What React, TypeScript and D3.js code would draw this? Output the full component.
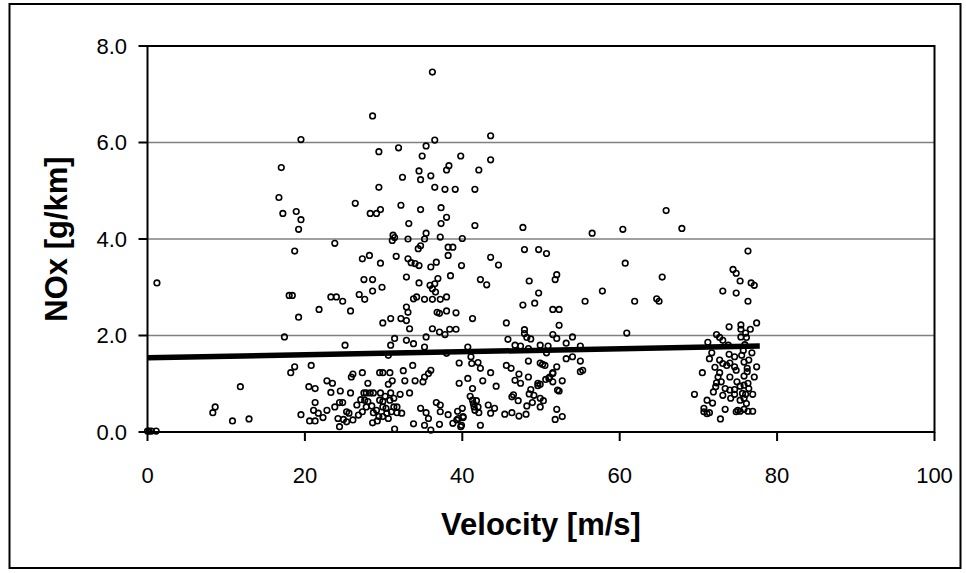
import React, { useEffect } from "react";
import * as d3 from "d3";

// ---- data ----
const velocity: number[] = [
  // near origin / sparse low-speed
  0, 0.2, 0.5, 1.1, 1.2, 8.6, 8.3, 10.8, 11.8, 12.9,
  // 16-20
  16.7, 17.0, 17.2, 18.9, 19.5, 19.2, 19.5, 18.7, 18.0, 18.4, 19.2, 17.4, 18.7, 18.2, 19.5,
  // 20-41 upper (>4)
  36.2, 28.6, 29.4, 31.9, 35.4, 36.5, 34.9, 39.8, 34.5, 34.7, 36.0, 38.0, 38.3, 32.4, 29.4, 36.5, 37.8, 39.1,
  26.4, 28.3, 29.1, 29.6, 32.2, 34.7, 37.3, 38.0, 37.3, 33.2, 31.2, 31.4, 31.1, 35.4, 35.2, 37.2, 40.0, 33.1,
  // 20-41 middle (2-4)
  23.8, 27.3, 28.2, 29.6, 31.6, 33.1, 33.5, 34.0, 34.5, 32.9, 36.0, 36.7, 38.5, 39.9, 38.2, 38.8, 38.2, 34.4, 34.7,
  27.5, 28.6, 28.6, 29.8, 34.5, 35.9, 36.2, 36.5, 36.9, 36.6, 23.3, 24.0, 24.8, 21.8, 25.8, 26.9, 27.6,
  33.8, 34.2, 35.2, 36.2, 37.2, 38.0, 32.9, 33.1, 32.9, 33.3, 32.2, 29.9, 30.9, 36.8, 37.1, 38.0, 39.2,
  36.2, 37.1, 37.8, 38.4, 39.2, 35.4, 35.2, 31.4, 30.9, 32.9, 33.8, 25.1, 30.6, 38.0, 40.7,
  // 20-41 lower
  20.8, 20.5, 21.3, 21.3, 21.1, 21.7, 20.6, 21.3, 22.3, 22.8, 23.3, 22.8, 23.5, 23.8, 24.4, 24.8, 24.5, 24.2,
  24.9, 24.4, 25.3, 25.6, 25.8, 25.9, 26.1, 25.3, 26.1, 26.6, 26.8, 27.3, 27.1, 27.5, 27.8, 28.3, 28.7, 28.0,
  27.6, 28.0, 27.8, 28.5, 27.3, 28.7, 29.1, 28.6, 29.2, 29.5, 29.9, 29.6, 30.2, 29.5, 29.9, 29.9, 30.3, 29.4,
  29.9, 30.4, 30.6, 30.8, 30.6, 31.1, 30.9, 30.8, 31.3, 31.3, 31.7, 31.0, 31.7, 31.4, 32.1, 32.3, 32.5, 32.7,
  33.3, 33.7, 33.8, 34.0, 34.7, 35.4, 35.0, 35.2, 35.7, 36.0, 35.2, 36.0, 35.7, 36.7, 37.2, 37.1, 37.2, 39.6,
  39.6, 39.5, 39.3, 39.8, 40.0, 38.8, 40.7, 38.2, 39.4, 40.1,
  // 40-61
  43.6, 43.6, 42.1, 41.6, 41.6, 47.7, 56.5, 60.4,
  47.9, 49.7, 50.7, 43.6, 44.6, 42.3, 43.1, 48.5, 51.8, 52.0, 49.7, 49.2, 47.7, 51.5, 52.3, 52.3, 55.6, 57.8,
  60.7, 60.9, 41.3, 45.6,
  45.8, 46.7, 47.4, 47.9, 47.9, 48.2, 48.7, 48.4, 49.9, 50.9, 51.5, 52.0, 53.2, 54.0, 55.0, 50.7, 53.2, 54.0,
  55.0, 55.0, 55.3, 41.2, 42.0, 41.1, 42.3, 43.6, 45.6, 46.2, 47.2, 46.7, 47.4, 48.4, 48.4, 49.9, 50.2, 50.5,
  52.0, 51.5, 51.1, 50.6, 49.9, 49.6, 51.5, 52.7, 52.1, 52.3, 42.6, 41.3, 44.3, 41.0, 41.3, 41.4, 41.8, 42.0,
  41.5, 41.6, 42.1, 43.3, 43.6, 44.1, 40.1, 39.9, 42.3, 45.4, 46.3, 46.5, 46.3, 47.1, 47.2, 48.1, 48.2, 48.5,
  48.7, 49.1, 48.9, 49.6, 49.9, 50.3, 49.9, 51.0, 51.5, 52.0, 52.7, 51.8,
  // 61-70
  61.9, 64.7, 65.0, 65.4, 65.9, 67.9, 69.5,
  // right cluster 70-78
  76.3, 74.4, 74.8, 75.3, 76.7, 77.1, 73.1, 74.8, 76.3, 77.4, 73.9, 75.4, 75.4, 76.6, 76.0, 72.3, 72.7, 75.4,
  76.1, 71.2, 73.1, 73.8, 75.9, 75.7, 71.7, 76.8, 71.4, 73.9, 74.6, 75.5, 72.7, 73.1, 73.6, 74.0, 74.6, 75.8,
  76.4, 77.4, 72.1, 70.5, 72.7, 74.8, 76.2, 76.2, 72.5, 74.0, 75.8, 77.1, 72.3, 72.9, 74.9, 76.3, 75.8, 72.2,
  73.4, 74.6, 75.3, 76.4, 71.9, 73.1, 74.0, 74.6, 75.6, 76.0, 76.9, 71.1, 71.8, 73.4, 70.7, 70.7, 71.4, 71.1,
  75.0, 75.3, 75.8, 76.3, 76.9, 74.8, 72.8, 74.1, 75.3, 76.1, 75.8,
];

const nox: number[] = [
  0.02, 0.02, 0.02, 0.02, 3.09, 0.52, 0.40, 0.23, 0.94, 0.27,
  4.86, 5.48, 4.53, 4.57, 4.40, 4.20, 6.06, 3.75, 2.83, 2.83, 2.38, 1.97, 1.35, 1.23, 0.36,
  7.46, 6.55, 5.81, 5.89, 5.93, 6.05, 5.72, 5.72, 5.41, 5.23, 5.31, 5.43, 5.52, 5.28, 5.07, 5.07, 5.03, 5.03,
  4.74, 4.53, 4.53, 4.61, 4.70, 4.61, 4.65, 4.45, 4.32, 4.32, 4.08, 4.03, 3.97, 4.12, 4.00, 4.04, 4.01, 4.00,
  3.91, 3.59, 3.66, 3.50, 3.64, 3.59, 3.51, 3.49, 3.45, 3.21, 3.42, 3.52, 3.24, 3.45, 3.83, 3.83, 3.66, 3.80, 3.86,
  3.16, 3.16, 2.92, 3.00, 3.09, 3.04, 2.97, 3.07, 3.18, 2.90, 2.80, 2.80, 2.71, 2.54, 2.51, 2.85, 2.75,
  2.76, 2.80, 2.75, 2.75, 2.75, 2.80, 2.59, 2.48, 2.31, 2.14, 2.35, 2.26, 2.35, 2.48, 2.46, 2.51, 2.47,
  2.14, 2.07, 2.02, 2.13, 2.13, 1.97, 1.76, 1.94, 1.80, 1.90, 1.83, 1.80, 1.59, 1.63, 1.76,
  1.38, 0.94, 0.90, 0.61, 0.45, 0.39, 0.23, 0.23, 0.30, 0.45, 0.82, 1.06, 1.01, 0.52, 0.61, 0.61, 0.85, 0.28,
  0.26, 0.11, 0.42, 0.39, 0.81, 1.14, 1.20, 0.21, 0.25, 0.56, 0.35, 1.23, 0.67, 0.81, 0.81, 0.81, 0.81, 1.01,
  0.66, 0.63, 0.52, 0.54, 0.42, 0.40, 0.45, 0.19, 0.23, 1.23, 1.23, 0.81, 0.74, 0.66, 0.63, 0.52, 0.49, 0.32,
  0.32, 0.39, 0.28, 1.23, 0.99, 1.06, 0.81, 0.66, 0.70, 0.52, 0.52, 0.42, 0.40, 0.06, 0.78, 0.39, 1.27, 1.06,
  0.81, 1.38, 0.17, 1.06, 0.49, 0.40, 1.04, 1.14, 1.21, 1.28, 0.14, 0.04, 0.28, 0.61, 0.42, 0.16, 0.56, 1.43,
  1.01, 0.28, 0.25, 0.11, 0.49, 0.18, 1.11, 0.36, 0.43, 0.32,
  6.14, 5.64, 5.43, 5.03, 4.28, 4.24, 4.12, 4.20,
  3.78, 3.78, 3.70, 3.62, 3.46, 3.16, 3.05, 3.13, 3.16, 3.26, 2.88, 2.67, 2.63, 2.54, 2.54, 2.21, 2.71, 2.92,
  3.50, 2.05, 2.35, 2.26,
  1.92, 1.80, 1.78, 2.12, 2.04, 1.96, 1.93, 1.73, 1.80, 1.78, 2.02, 1.94, 1.84, 1.97, 1.78, 1.64, 1.52, 1.56,
  1.47, 1.25, 1.28, 1.42, 1.44, 1.56, 1.32, 1.23, 1.38, 1.32, 1.20, 1.07, 1.01, 1.47, 1.14, 1.43, 1.40, 1.38,
  1.35, 1.23, 1.14, 1.09, 0.99, 0.96, 1.04, 1.06, 0.87, 0.85, 1.06, 0.90, 0.95, 0.74, 0.66, 0.59, 0.65, 0.52,
  0.52, 0.45, 0.40, 0.56, 0.39, 0.49, 0.30, 0.14, 0.14, 0.37, 0.40, 0.77, 0.73, 0.65, 0.33, 0.37, 0.54, 0.79,
  0.88, 0.76, 0.61, 1.01, 0.70, 0.65, 0.52, 1.11, 1.21, 0.47, 0.32, 0.26,
  2.71, 2.76, 2.71, 3.21, 4.59, 4.22, 0.78,
  3.75, 3.37, 3.29, 3.13, 3.09, 3.04, 2.92, 2.88, 2.71, 2.26, 2.18, 2.22, 2.13, 2.13, 2.05, 2.02, 1.96, 1.97,
  1.96, 1.86, 1.90, 1.80, 1.81, 1.69, 1.64, 1.64, 1.52, 1.61, 1.56, 1.59, 1.49, 1.42, 1.38, 1.43, 1.35, 1.45,
  1.49, 1.35, 1.34, 1.23, 1.23, 1.28, 1.32, 1.25, 1.14, 1.14, 1.16, 1.14, 1.02, 1.04, 1.04, 1.01, 0.97, 0.94,
  0.90, 0.88, 0.95, 0.90, 0.83, 0.76, 0.87, 0.78, 0.80, 0.78, 0.78, 0.66, 0.60, 0.47, 0.49, 0.42, 0.40, 0.38,
  0.45, 0.43, 0.47, 0.43, 0.43, 0.42, 0.27, 0.70, 0.66, 0.59, 0.70,
];

const trendX: number[] = [0, 77.8];
const trendY: number[] = [1.54, 1.78];

const xTicks: number[] = [0, 20, 40, 60, 80, 100];
const yTicks: number[] = [0, 2, 4, 6, 8];
const gridValues: number[] = [2, 4, 6];

const xTitle = "Velocity [m/s]";
const yTitle = "NOx [g/km]";

// ---- layout ----
const W = 966;
const H = 573;
const left = 147.5;
const right = 934.5;
const top = 46;
const bottom = 432;
const FONT = "'Liberation Sans', Arial, sans-serif";

export default function App() {
  useEffect(() => {
    document.body.style.margin = "0";
  }, []);

  const x = d3.scaleLinear().domain([0, 100]).range([left, right]);
  const y = d3.scaleLinear().domain([0, 8]).range([bottom, top]);
  const fmtY = d3.format(".1f");

  const points = velocity.map((v, i) => ({ v, n: nox[i] }));
  const lineGen = d3
    .line<number>()
    .x((d) => x(d))
    .y((_d, i) => y(trendY[i]));

  return (
    <div style={{ position: "absolute", left: 0, top: 0, width: W, height: H }}>
      <svg width={W} height={H} style={{ display: "block", background: "#fff" }}>
        {/* outer frame */}
        <rect x={9.5} y={4} width={951} height={564} fill="none" stroke="#000" strokeWidth={2} />

        {/* gridlines */}
        {gridValues.map((g) => (
          <line key={"g" + g} x1={left} x2={right} y1={y(g)} y2={y(g)} stroke="#808080" strokeWidth={1.5} />
        ))}

        {/* points */}
        {points.map((p, i) => (
          <circle
            key={"p" + i}
            cx={x(p.v)}
            cy={y(p.n)}
            r={2.8}
            fill="none"
            stroke="#000"
            strokeWidth={1.6}
          />
        ))}

        {/* trend line */}
        <path d={lineGen(trendX) || ""} fill="none" stroke="#000" strokeWidth={5.5} />

        {/* plot frame */}
        <rect x={left} y={top} width={right - left} height={bottom - top} fill="none" stroke="#000" strokeWidth={2} />

        {/* y ticks */}
        {yTicks.map((t) => (
          <g key={"yt" + t}>
            <line x1={left - 9} x2={left} y1={y(t)} y2={y(t)} stroke="#000" strokeWidth={2} />
            <text
              x={127}
              y={y(t)}
              dy="0.36em"
              textAnchor="end"
              fontFamily={FONT}
              fontSize={22}
              fill="#000"
            >
              {fmtY(t)}
            </text>
          </g>
        ))}

        {/* x ticks */}
        {xTicks.map((t) => (
          <g key={"xt" + t}>
            <line x1={x(t)} x2={x(t)} y1={bottom} y2={bottom + 9} stroke="#000" strokeWidth={2} />
            <text x={x(t)} y={483} textAnchor="middle" fontFamily={FONT} fontSize={22} fill="#000">
              {t}
            </text>
          </g>
        ))}

        {/* axis titles */}
        <text
          x={(left + right) / 2}
          y={535}
          textAnchor="middle"
          fontFamily={FONT}
          fontWeight="bold"
          fontSize={31}
          fill="#000"
        >
          {xTitle}
        </text>
        <text
          transform={`translate(67,${(top + bottom) / 2}) rotate(-90)`}
          textAnchor="middle"
          fontFamily={FONT}
          fontWeight="bold"
          fontSize={31}
          fill="#000"
        >
          {yTitle}
        </text>
      </svg>
    </div>
  );
}
